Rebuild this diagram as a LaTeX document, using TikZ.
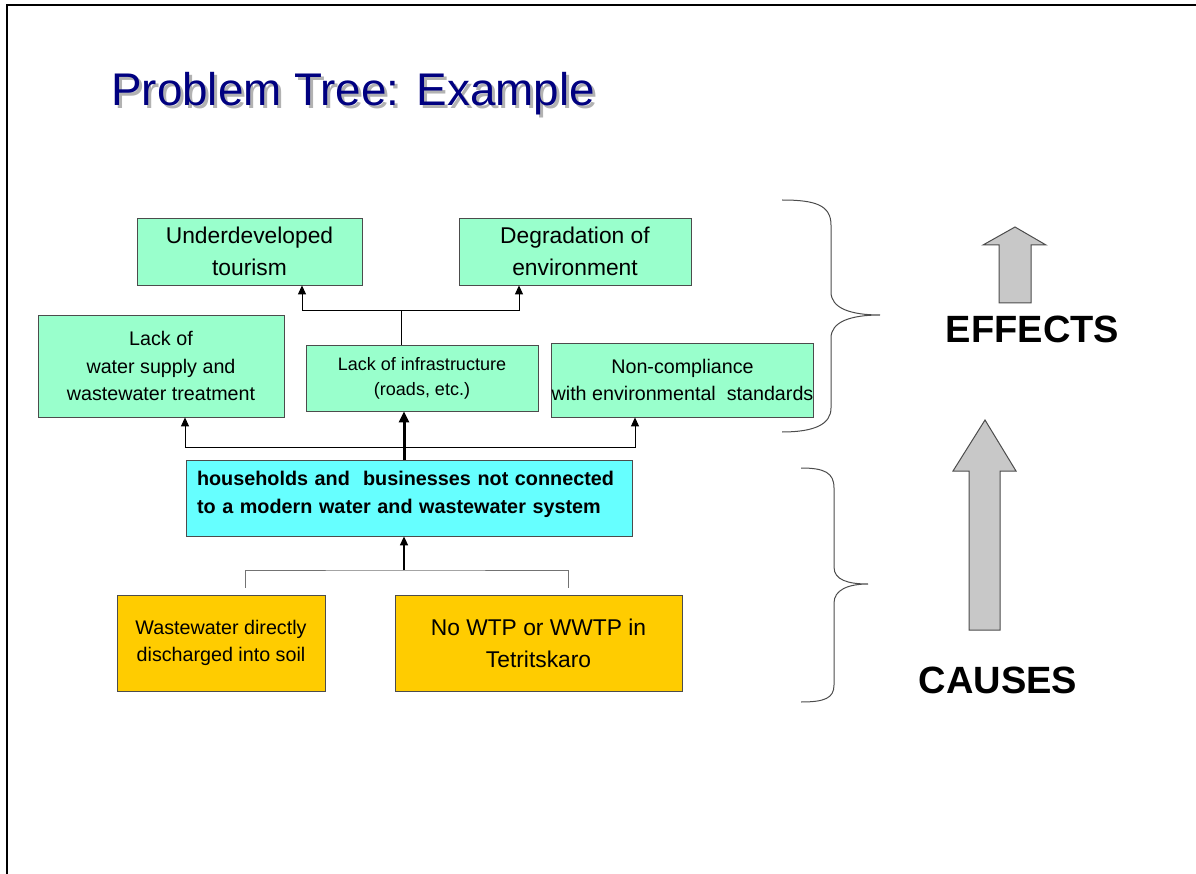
\documentclass[tikz,border=0pt]{standalone}
\usepackage{fontspec}
\setmainfont{Liberation Sans}
\usepackage{tikz}
\usetikzlibrary{arrows.meta}
\definecolor{mint}{HTML}{99FFCC}
\definecolor{aqua}{HTML}{66FFFF}
\definecolor{amber}{HTML}{FFCC00}
\definecolor{navy}{HTML}{000080}
\definecolor{arrowgray}{HTML}{C8C8C8}
\tikzset{%
	box/.style args={#1 by #2}{draw=black!70, line width=0.8pt, inner sep=0pt,
		align=center, minimum width=#1, minimum height=#2}
}

\begin{document}
\begin{tikzpicture}[x=1pt, y=-1pt,
		effect/.style={box=#1, fill=mint},
		cause/.style={box=#1, fill=amber},
		big/.style={font=\fontsize{22.8}{32}\selectfont},
		small/.style={font=\fontsize{19.7}{27.5}\selectfont},
		arr/.style={-{Triangle[length=9pt,width=8pt]}, line width=1pt},
		brace/.style={draw=black!70, line width=1pt},
		updart/.style={fill=arrowgray, draw=black!70, line width=1pt}]
	\useasboundingbox (0,0) rectangle (1196,874);
	\draw [line width=2pt] (7,874) -- (7,5) -- (1196,5);
	% title
	\node [anchor=base west, inner sep=0pt, text=black!30, font=\fontsize{45.8}{50}\selectfont] (shadow) at (114,109) {Problem Tree: Example};
	\node [anchor=base west, inner sep=0pt, text=navy, font=\fontsize{45.8}{50}\selectfont] (title) at (111,106) {Problem Tree: Example};
	% effects
	\node [effect=225pt by 67pt, big] (tour) at (249.5,251.5) {Underdeveloped\\tourism};
	\node [effect=232pt by 67pt, big] (env) at (575,251.5) {Degradation of\\environment};
	\node [effect=246pt by 102pt, small] (water) at (161,366) {Lack of\\water supply and\\wastewater treatment};
	\node [effect=232pt by 66pt, font=\fontsize{18}{25}\selectfont] (infra) at (422,378) {Lack of infrastructure\\(roads, etc.)};
	\node [effect=259pt by 74pt, small] (norm) at (682.5,380) {Non-compliance\\with environmental\ \ standards};
	% core problem
	\node [box=446pt by 76pt, fill=aqua, align=left, text width=424pt, inner xsep=11pt, inner ysep=7pt,
		text height=18pt, text depth=44pt, font=\bfseries\fontsize{19.8}{28}\selectfont] (house) at (409,498)
		{households and\ \ businesses not connected\\to a modern water and wastewater system};
	% causes
	\node [cause=208pt by 96pt, small] (soil) at (221,643) {Wastewater directly\\discharged into soil};
	\node [cause=287pt by 96pt, big] (wtp) at (538.5,643) {No WTP or WWTP in\\Tetritskaro};
	% connectors
	\coordinate (top) at (401,311);
	\coordinate (mid) at (404,447);
	\coordinate (low) at (404,570);
	\draw [line width=1pt] (top |- infra.north) -- (top);
	\draw [arr] (top) -| ([xshift=52.5pt]tour.south);
	\draw [arr] (top) -| ([xshift=-56pt]env.south);
	\draw [-{Triangle[length=11pt,width=10pt]}, line width=3pt] (house.north -| mid) -- (infra.south -| mid);
	\draw [arr] (mid) -| ([xshift=24pt]water.south);
	\draw [arr] (mid) -| ([xshift=-47.5pt]norm.south);
	\draw [black!55, line width=1pt] ([shift={(24pt,7pt)}]soil.north) |- (low) -| ([shift={(29.5pt,7pt)}]wtp.north);
	\draw [arr, line width=1.6pt] (low) -- (house.south -| low);
	% braces
	\draw [brace] (782,200) .. controls (815,200) and (831,205) .. (831,225) -- (831,292)
		.. controls (831,308) and (850,315) .. (880,315) .. controls (850,315) and (831,322) .. (831,338)
		-- (831,408) .. controls (831,424) and (815,432) .. (782,432);
	\draw [brace] (801,468) .. controls (825,468) and (834,473) .. (834,488) -- (834,567)
		.. controls (834,580) and (848,584) .. (868,584) .. controls (848,584) and (834,590) .. (834,603)
		-- (834,685) .. controls (834,698) and (825,702) .. (801,702);
	% big arrows
	\draw [updart] (999,303) -- (999,245) -- (983,245) -- (1015,227) -- (1046,245) -- (1031,245) -- (1031,303) -- cycle;
	\draw [updart] (969,630) -- (969,471) -- (953,471) -- (985,420) -- (1016,471) -- (1000,471) -- (1000,630) -- cycle;
	\node [anchor=base, inner sep=0pt, font=\bfseries\fontsize{38}{42}\selectfont] (effects) at (1032.5,343) {EFFECTS};
	\node [anchor=base, inner sep=0pt, font=\bfseries\fontsize{38}{42}\selectfont] (causes) at (998,693) {CAUSES};
\end{tikzpicture}
\end{document}
